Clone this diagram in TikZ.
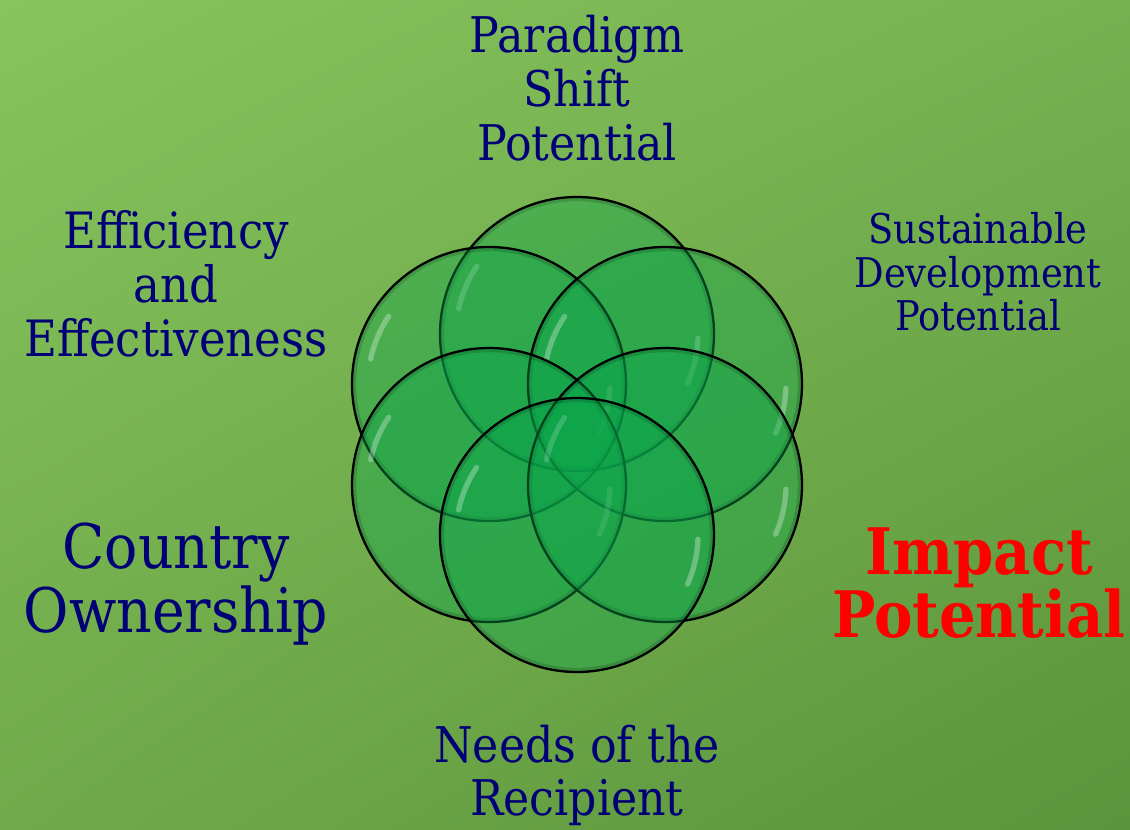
\documentclass[tikz,border=0pt]{standalone}
\usepackage{fontspec}
\setmainfont{DejaVu Serif Condensed}
\usetikzlibrary{positioning, shadings}
\definecolor{gnavy}{RGB}{0,0,118}
\definecolor{gred}{RGB}{255,0,0}
\definecolor{gbubble}{RGB}{10,165,75}
\definecolor{gtopleft}{RGB}{134,196,92}
\definecolor{gtopright}{RGB}{118,178,80}
\definecolor{gbotleft}{RGB}{112,170,74}
\definecolor{gbotright}{RGB}{90,148,60}

\tikzset{
  bubble/.style={draw=black, line width=1.3pt, fill=gbubble, fill opacity=0.4},
  rim/.style={draw=black, draw opacity=0.15, line width=2.5pt},
  glint/.style={draw=white, draw opacity=0.3, line width=3pt, line cap=round},
  crit/.style={text=gnavy, align=center, inner sep=0pt},
}

\begin{document}
\begin{tikzpicture}[x=0.02cm, y=-0.02cm]
        \useasboundingbox (0,0) rectangle (1130,829);
        \clip (0,0) rectangle (1130,829);

        % background
        \shade[upper left=gtopleft, upper right=gtopright,
               lower left=gbotleft, lower right=gbotright] (0,0) rectangle (1130,829);

        % top bubble
        \draw[bubble] (577,334) circle[radius=137];
        \draw[rim] (577,334) circle[radius=135];
        \draw[glint] (577,334) ++(192:121) arc[start angle=192, end angle=214, radius=121];
        \draw[glint] (577,334) ++(2:121) arc[start angle=2, end angle=24, radius=121];

        % top left bubble
        \draw[bubble] (489,384) circle[radius=137];
        \draw[rim] (489,384) circle[radius=135];
        \draw[glint] (489,384) ++(192:121) arc[start angle=192, end angle=214, radius=121];
        \draw[glint] (489,384) ++(2:121) arc[start angle=2, end angle=24, radius=121];

        % top right bubble
        \draw[bubble] (665,384) circle[radius=137];
        \draw[rim] (665,384) circle[radius=135];
        \draw[glint] (665,384) ++(192:121) arc[start angle=192, end angle=214, radius=121];
        \draw[glint] (665,384) ++(2:121) arc[start angle=2, end angle=24, radius=121];

        % bottom left bubble
        \draw[bubble] (489,485) circle[radius=137];
        \draw[rim] (489,485) circle[radius=135];
        \draw[glint] (489,485) ++(192:121) arc[start angle=192, end angle=214, radius=121];
        \draw[glint] (489,485) ++(2:121) arc[start angle=2, end angle=24, radius=121];

        % bottom right bubble
        \draw[bubble] (665,485) circle[radius=137];
        \draw[rim] (665,485) circle[radius=135];
        \draw[glint] (665,485) ++(192:121) arc[start angle=192, end angle=214, radius=121];
        \draw[glint] (665,485) ++(2:121) arc[start angle=2, end angle=24, radius=121];

        % bottom bubble
        \draw[bubble] (577,535) circle[radius=137];
        \draw[rim] (577,535) circle[radius=135];
        \draw[glint] (577,535) ++(192:121) arc[start angle=192, end angle=214, radius=121];
        \draw[glint] (577,535) ++(2:121) arc[start angle=2, end angle=24, radius=121];

        % criteria
        \node[crit, font=\fontsize{28}{30.6}\selectfont] (paradigm) at (577,88)
            {Paradigm\\Shift\\Potential};
        \node[crit, font=\fontsize{28.5}{30.6}\selectfont] (efficiency) at (176,284)
            {Efficiency\\and\\Effectiveness};
        \node[crit, font=\fontsize{23.3}{24.7}\selectfont] (sustainable) at (978,272)
            {Sustainable\\Development\\Potential};
        \node[crit, font=\fontsize{35}{36.8}\selectfont] (country) at (176,584)
            {Country\\Ownership};
        \node[crit, text=gred, font=\bfseries\fontsize{36.5}{35.2}\selectfont] (impact) at (979,583)
            {Impact\\Potential};
        \node[crit, font=\fontsize{28}{30.2}\selectfont] (needs) at (577,775)
            {Needs of the\\Recipient};
\end{tikzpicture}
\end{document}
